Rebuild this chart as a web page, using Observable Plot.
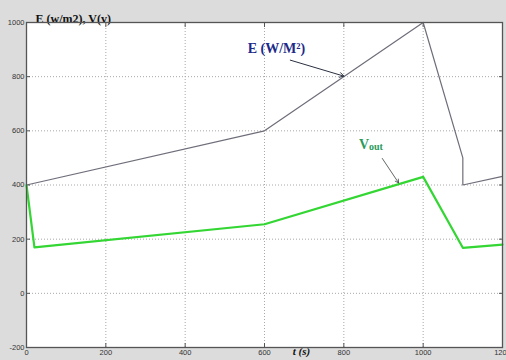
<!DOCTYPE html>
<html><head><meta charset="utf-8">
<script src="https://cdn.jsdelivr.net/npm/d3@7"></script>
<script src="https://cdn.jsdelivr.net/npm/@observablehq/plot@0.6"></script>
<style>html,body{margin:0;padding:0;background:#dcdcdc;}</style>
</head><body><div id="chart"></div>
<script>
// E (irradiance) series
const eTime = [0, 600, 1000, 1100, 1100, 1200];
const eVal  = [400, 600, 1000, 500, 400, 432];
// Vout series
const vTime = [0, 20, 600, 1000, 1100, 1200];
const vVal  = [400, 170, 255, 430, 168, 180];
// ticks
const xTicks = [0, 200, 400, 600, 800, 1000, 1200];
const yTicks = [-200, 0, 200, 400, 600, 800, 1000];
// labels
const yTitle = "E (w/m2), V(v)";
const xTitle = "t (s)";
const eLabel = "E (W/M²)";
const vLabelMain = "V";
const vLabelSub = "out";
// annotation anchors (data units)
const eLabelPos = {t: 630, v: 905};
const eArrow = {t1: 665, v1: 861, t2: 800, v2: 802};
const vLabelPos = {t: 838, v: 548};
const vArrow = {t1: 897, v1: 498, t2: 938, v2: 408};

const eData = eTime.map((t, i) => ({t, v: eVal[i]}));
const vData = vTime.map((t, i) => ({t, v: vVal[i]}));
const fmt = d => String(d);

const chart = Plot.plot({
  width: 506,
  height: 360,
  marginLeft: 26,
  marginRight: 4,
  marginTop: 22,
  marginBottom: 13,
  style: {background: "#dcdcdc", fontFamily: "Liberation Sans, Arial, sans-serif", fontSize: "7.5px", color: "#333", overflow: "visible"},
  x: {domain: [0, 1200]},
  y: {domain: [-200, 1000]},
  marks: [
    Plot.frame({fill: "white", stroke: null}),
    Plot.gridX(xTicks, {stroke: "#a8a8a8", strokeOpacity: 1, strokeDasharray: "1,2"}),
    Plot.gridY(yTicks, {stroke: "#a8a8a8", strokeOpacity: 1, strokeDasharray: "1,2"}),
    Plot.axisX(xTicks, {tickSize: -4, tickPadding: 6, tickFormat: fmt, label: null, stroke: "#555"}),
    Plot.axisX(xTicks, {anchor: "top", tickSize: -4, tickFormat: () => "", label: null, stroke: "#555"}),
    Plot.axisY(yTicks, {tickSize: -4, tickPadding: 6, tickFormat: fmt, label: null, stroke: "#555"}),
    Plot.axisY(yTicks, {anchor: "right", tickSize: -4, tickFormat: () => "", label: null, stroke: "#555"}),
    Plot.line(eData, {x: "t", y: "v", stroke: "#6e6e7a", strokeWidth: 1.2}),
    Plot.line(vData, {x: "t", y: "v", stroke: "#33d633", strokeWidth: 2.2}),
    Plot.arrow([eArrow], {x1: "t1", y1: "v1", x2: "t2", y2: "v2", stroke: "#2a3040", strokeWidth: 1, headLength: 7}),
    Plot.arrow([vArrow], {x1: "t1", y1: "v1", x2: "t2", y2: "v2", stroke: "#3a4040", strokeWidth: 0.8, headLength: 7}),
    Plot.text([eLabelPos], {x: "t", y: "v", text: () => eLabel, fill: "#1c2a8a", fontFamily: "Liberation Serif, Times New Roman, serif", fontWeight: "bold", fontSize: 14}),
    Plot.text([vLabelPos], {x: "t", y: "v", text: () => vLabelMain, textAnchor: "start", fill: "#2a9a5a", fontFamily: "Liberation Serif, serif", fontWeight: "bold", fontSize: 14}),
    Plot.text([vLabelPos], {x: "t", y: "v", text: () => vLabelSub, textAnchor: "start", dx: 10, dy: 2, fill: "#2a9a5a", fontFamily: "Liberation Serif, serif", fontWeight: "bold", fontSize: 10}),
    Plot.text([yTitle], {frameAnchor: "top-left", dx: 9, dy: -8, text: d => d, textAnchor: "start", fill: "#111", fontFamily: "Liberation Serif, serif", fontWeight: "bold", fontSize: 12}),
    Plot.text([xTitle], {x: () => 693, frameAnchor: "bottom", dy: 7, text: d => d, fill: "#111", fontFamily: "Liberation Serif, serif", fontWeight: "bold", fontStyle: "italic", fontSize: 11}),
    Plot.frame({stroke: "#555", strokeWidth: 1.3})
  ]
});
document.getElementById("chart").appendChild(chart);
</script>
</body></html>
